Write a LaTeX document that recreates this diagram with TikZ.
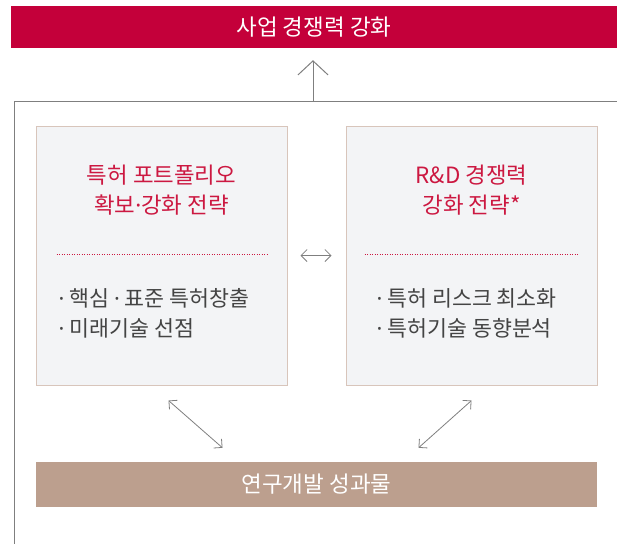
\documentclass[tikz,border=0pt]{standalone}
\usepackage{fontspec}
\setmainfont{Noto Sans CJK KR}
\newfontfamily\dotfont{Noto Sans}
\newcommand{\mdot}{{\dotfont ·}}
\usetikzlibrary{positioning,arrows.meta}
\definecolor{goalred}{HTML}{C4003A}
\definecolor{headred}{HTML}{CC1841}
\definecolor{panelfill}{HTML}{F3F4F6}
\definecolor{panelline}{HTML}{D8C5BB}
\definecolor{resulttan}{HTML}{BC9F8E}
\definecolor{linkgray}{HTML}{7F7F7F}
\definecolor{bodygray}{HTML}{444444}

\begin{document}
\begin{tikzpicture}[
  x=1pt,y=-1pt,
  bar/.style={rectangle,inner sep=0pt,text=white,
              font=\fontsize{22.5}{26}\selectfont},
  panel/.style={rectangle,draw=panelline,fill=panelfill,line width=1pt,
                minimum width=251pt,minimum height=259pt},
  heading/.style={align=center,text=headred,inner sep=0pt,
                  font=\fontsize{22.4}{29.5}\selectfont},
  points/.style={align=left,text=bodygray,inner sep=0pt,anchor=west,
                 font=\fontsize{21.7}{29.5}\selectfont},
  sep/.style={draw=headred,line width=0.8pt,dash pattern=on 0.8pt off 1.7pt},
  frame/.style={draw=linkgray,line width=1pt},
  link/.style={draw=linkgray,line width=0.8pt,
               {Straight Barb[length=6pt,width=12pt]}-{Straight Barb[length=6pt,width=12pt]}},
  rise/.style={draw=linkgray,line width=1pt,-{Straight Barb[length=14pt,width=30pt]}}
]
  \useasboundingbox (0,0) rectangle (617,544);

  % goal and outcome
  \node[bar,fill=goalred,minimum width=606pt,minimum height=42pt] (goal) at (314,27) {사업 경쟁력 강화};
  \node[bar,fill=resulttan,minimum width=561pt,minimum height=45pt] (result) at (316.5,484.5) {연구개발 성과물};

  % open frame
  \draw[frame] (617,101) -- (14,101) -- (14,544);
  \coordinate (frametop) at (313,101);
  \draw[rise,shorten >=12pt] (frametop) -- (goal.south -| frametop);

  % two strategy panels
  \node[panel] (patent) at (161.5,255.5) {};
  \node[panel] (rnd)    at (471.5,255.5) {};

  \node[heading] (patenthead) at ([yshift=-64.5pt]patent.north) {특허 포트폴리오\\확보\mdot 강화 전략};
  \node[heading] (rndhead)    at ([yshift=-64.5pt]rnd.north)    {R\&D 경쟁력\\강화 전략*};

  \draw[sep] ([shift={(21,129)}]patent.north west) -- ([shift={(-19,129)}]patent.north east);
  \draw[sep] ([shift={(19,129)}]rnd.north west)    -- ([shift={(-19,129)}]rnd.north east);

  \node[points] (patentlist) at ([xshift=23pt,yshift=-58pt]patent.west) {\mdot{} 핵심 \mdot{} 표준 특허창출\\\mdot{} 미래기술 선점};
  \node[points] (rndlist)    at ([xshift=31pt,yshift=-58pt]rnd.west)    {\mdot{} 특허 리스크 최소화\\\mdot{} 특허기술 동향분석};

  % links
  \draw[link,shorten <=13pt,shorten >=14pt] (patent.east) -- (rnd.west);
  \draw[link] ([shift={(7,15)}]patent.south) -- ([shift={(-94,-14)}]result.north);
  \draw[link] ([shift={(0,15)}]rnd.south)    -- ([shift={(102,-14)}]result.north);
\end{tikzpicture}
\end{document}
